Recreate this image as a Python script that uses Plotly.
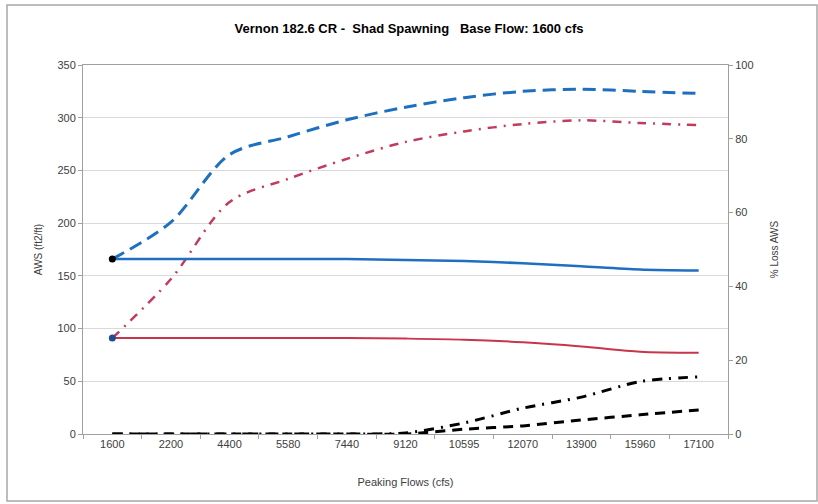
import plotly.graph_objects as go

categories = ["1600", "2200", "4400", "5580", "7440", "9120", "10595", "12070", "13900", "15960", "17100"]

# Left axis (AWS ft2/ft)
blue_peak = [166, 201, 265, 282, 298, 310, 319, 325, 327, 325, 323]
red_peak = [91, 147, 220, 242, 261, 277, 287, 294, 297.5, 295, 293]
blue_base = [166, 166, 166, 166, 166, 165, 164, 162, 159, 156, 155]
red_base = [91, 91, 91, 91, 91, 90.5, 89.5, 87, 83, 78, 77]
# Right axis (% Loss AWS)
loss_dashdot = [0, 0, 0, 0, 0, 0.3, 3, 7, 10, 14.2, 15.5]
loss_dash = [0, 0, 0, 0, 0, 0, 1.3, 2.2, 3.8, 5.2, 6.5]
# Base-flow markers
marker_vals = [166, 91]
marker_colors = ["#000000", "#1F4E8C"]

BLUE = "#1F6FC0"
RED = "#C8354A"
RED_DD = "#C23A5C"

fig = go.Figure()
fig.add_trace(go.Scatter(x=categories, y=blue_peak, mode="lines",
                         line=dict(color=BLUE, width=3, dash="13px,7px", shape="spline", smoothing=0.9)))
fig.add_trace(go.Scatter(x=categories, y=red_peak, mode="lines",
                         line=dict(color=RED_DD, width=2.5, dash="9px,7px,2px,7px", shape="spline", smoothing=0.9)))
fig.add_trace(go.Scatter(x=categories, y=blue_base, mode="lines",
                         line=dict(color=BLUE, width=2.5, shape="spline", smoothing=0.8)))
fig.add_trace(go.Scatter(x=categories, y=red_base, mode="lines",
                         line=dict(color=RED, width=2, shape="spline", smoothing=0.8)))
fig.add_trace(go.Scatter(x=categories, y=loss_dashdot, mode="lines", yaxis="y2",
                         line=dict(color="#000000", width=3, dash="10px,7px,2px,7px", shape="spline", smoothing=0.8)))
fig.add_trace(go.Scatter(x=categories, y=loss_dash, mode="lines", yaxis="y2",
                         line=dict(color="#000000", width=3, dash="10px,7px", shape="spline", smoothing=0.8)))
fig.add_trace(go.Scatter(x=[categories[0], categories[0]], y=marker_vals, mode="markers",
                         marker=dict(color=marker_colors, size=7)))

axis_font = dict(family="Liberation Sans, Arial", size=11, color="#404040")
title_font = dict(family="Liberation Sans, Arial", size=10, color="#404040")

fig.update_layout(
    width=818, height=504,
    margin=dict(l=83, r=90, t=65, b=70),
    paper_bgcolor="white", plot_bgcolor="white",
    showlegend=False,
    title=dict(text="<b>Vernon 182.6 CR -  Shad Spawning   Base Flow: 1600 cfs</b>",
               x=0.5, xanchor="center", y=0.943, yanchor="middle",
               font=dict(family="Liberation Sans, Arial", size=13, color="#000000")),
    xaxis=dict(type="category", range=[-0.5, 10.5], tickfont=axis_font,
               ticks="outside", tickson="boundaries", ticklen=4, tickcolor="#A0A0A0",
               showline=True, linecolor="#A0A0A0", linewidth=1, mirror=True,
               showgrid=False, zeroline=False,
               title=dict(text="Peaking Flows (cfs)", font=axis_font, standoff=29)),
    yaxis=dict(range=[0, 350], dtick=50, tickfont=axis_font,
               ticks="outside", ticklen=4, tickcolor="#A0A0A0",
               showline=True, linecolor="#A0A0A0", linewidth=1,
               showgrid=True, gridcolor="#D9D9D9", gridwidth=1, zeroline=False,
               title=dict(text="AWS (ft2/ft)", font=title_font, standoff=12)),
    yaxis2=dict(range=[0, 100], dtick=20, overlaying="y", side="right", tickfont=axis_font,
                ticks="outside", ticklen=4, tickcolor="#A0A0A0",
                showline=True, linecolor="#A0A0A0", linewidth=1,
                showgrid=False, zeroline=False,
                title=dict(text="% Loss AWS", font=title_font, standoff=18)),
)

fig.add_shape(type="rect", xref="paper", yref="paper",
              x0=(7 - 83) / 645, x1=(817 - 83) / 645,
              y0=-(501 - 434) / 369, y1=1 + (65 - 5) / 369,
              line=dict(color="#A8A8A8", width=1.5))

fig.write_html("out.html", config={"displayModeBar": False},
               post_script="document.body.style.margin='0';document.body.style.padding='0';")
